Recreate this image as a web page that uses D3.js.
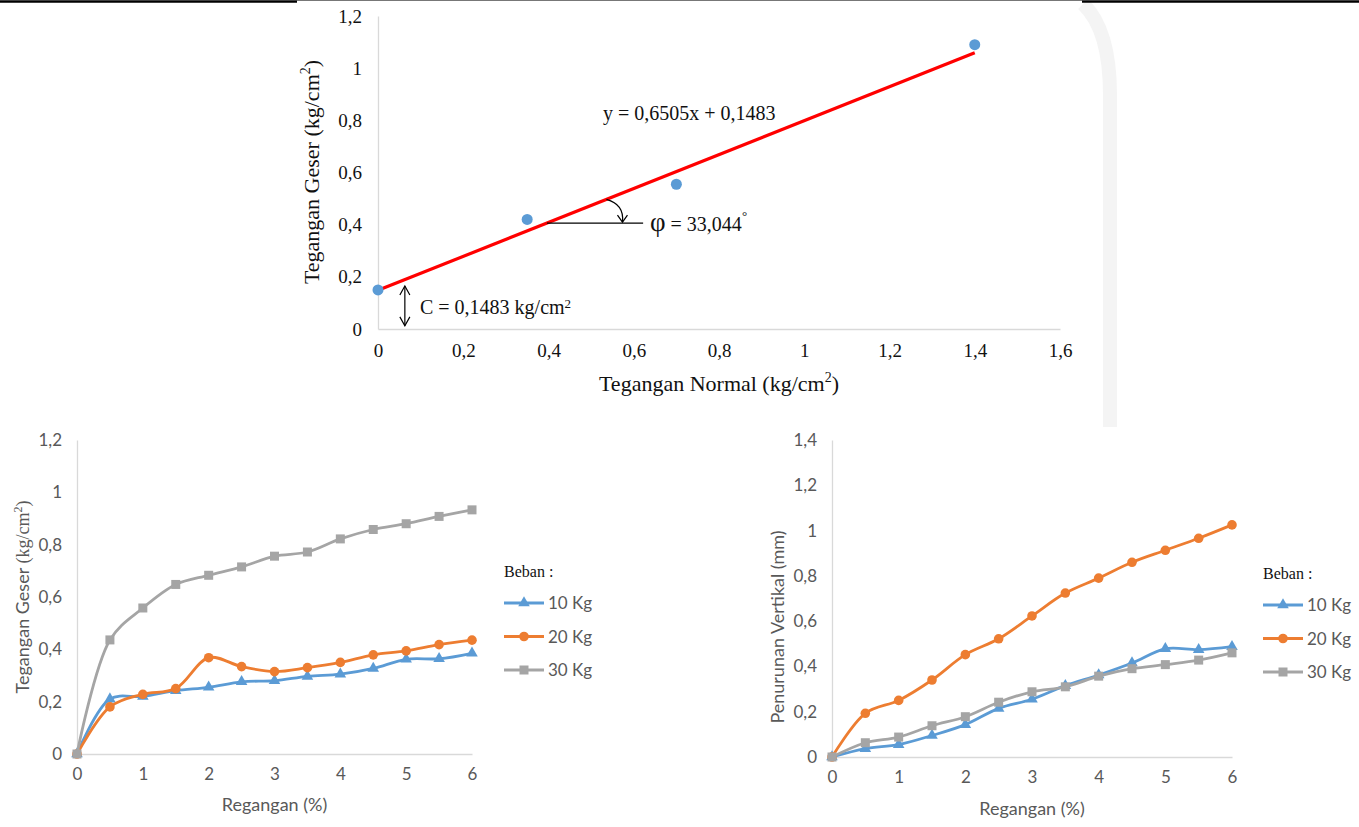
<!DOCTYPE html>
<html>
<head>
<meta charset="utf-8">
<script src="https://cdn.jsdelivr.net/npm/d3@7"></script>
<style>
  body { margin: 0; background: #ffffff; }
  svg { display: block; }
</style>
</head>
<body>
<svg id="page" width="1359" height="827"></svg>
<script>
// ---- Mohr-Coulomb envelope (direct shear) ----
const normalStress = [0, 0.35, 0.7, 1.4];
const shearPeak = [0.15, 0.42, 0.555, 1.09];
const fitSlope = 0.6505;
const fitIntercept = 0.1483;
const envelopeTicksX = [0, 0.2, 0.4, 0.6, 0.8, 1, 1.2, 1.4, 1.6];
const envelopeTicksY = [0, 0.2, 0.4, 0.6, 0.8, 1, 1.2];

// ---- Shear stress and settlement vs strain, per load ----
const strain = [0, 0.5, 1, 1.5, 2, 2.5, 3, 3.5, 4, 4.5, 5, 5.5, 6];
const loadNames = ["10 Kg", "20 Kg", "30 Kg"];
const shear10 = [0, 0.21, 0.22, 0.242, 0.255, 0.276, 0.28, 0.297, 0.305, 0.327, 0.362, 0.364, 0.385];
const shear20 = [0, 0.18, 0.228, 0.25, 0.368, 0.334, 0.315, 0.33, 0.35, 0.379, 0.394, 0.418, 0.435];
const shear30 = [0, 0.436, 0.558, 0.648, 0.683, 0.715, 0.756, 0.772, 0.822, 0.858, 0.88, 0.908, 0.933];
const settle10 = [0, 0.037, 0.055, 0.095, 0.143, 0.215, 0.255, 0.315, 0.362, 0.415, 0.478, 0.474, 0.487];
const settle20 = [0, 0.193, 0.25, 0.34, 0.452, 0.522, 0.623, 0.724, 0.79, 0.86, 0.913, 0.966, 1.025];
const settle30 = [0, 0.063, 0.088, 0.138, 0.178, 0.242, 0.288, 0.31, 0.357, 0.39, 0.408, 0.428, 0.46];
const strainTicks = [0, 1, 2, 3, 4, 5, 6];
const shearTicks = [0, 0.2, 0.4, 0.6, 0.8, 1, 1.2];
const settleTicks = [0, 0.2, 0.4, 0.6, 0.8, 1, 1.2, 1.4];

const seriesColors = ["#5b9bd5", "#ed7d31", "#a5a5a5"];
const seriesMarkers = ["triangle", "circle", "square"];

const locale = d3.formatLocale({ decimal: ",", thousands: ".", grouping: [3], currency: ["", ""] });
const fmt = locale.format("~r");

const svg = d3.select("#page");
const SERIF = "'Liberation Serif', 'Times New Roman', serif";
const SANS = "Lato, 'Open Sans', sans-serif";
const AXIS_GREY = "#d9d9d9";
const LABEL_GREY = "#595959";

// faint background shapes
const bg = svg.append("g");
bg.append("path")
  .attr("d", "M1083,4 C1100,20 1110,50 1110,95 L1110,427")
  .attr("fill", "none").attr("stroke", "#f4f4f4").attr("stroke-width", 14);

// page rule at the top
svg.append("line").attr("x1", 0).attr("x2", 297).attr("y1", 1.5).attr("y2", 1.5)
  .attr("stroke", "#000").attr("stroke-width", 2.5);
svg.append("line").attr("x1", 1082).attr("x2", 1359).attr("y1", 1.5).attr("y2", 1.5)
  .attr("stroke", "#000").attr("stroke-width", 2.5);
svg.append("line").attr("x1", 297).attr("x2", 1082).attr("y1", 0.5).attr("y2", 0.5)
  .attr("stroke", "#777").attr("stroke-width", 1);

function drawAxes(g, x, y, xTicks, yTicks, o) {
  const ax = g.append("g").attr("transform", `translate(0,${y.range()[0]})`)
    .call(d3.axisBottom(x).tickValues(xTicks).tickFormat(fmt).tickSize(0).tickPadding(o.xPad));
  const ay = g.append("g").attr("transform", `translate(${x.range()[0]},0)`)
    .call(d3.axisLeft(y).tickValues(yTicks).tickFormat(fmt).tickSize(0).tickPadding(o.yPad));
  [ax, ay].forEach(a => {
    a.select(".domain").attr("stroke", AXIS_GREY).attr("stroke-width", 1.3);
    a.selectAll("text").attr("font-family", o.font).attr("font-size", o.size).attr("fill", o.color);
  });
}

// ================= Envelope chart =================
{
  const x = d3.scaleLinear().domain([0, 1.6]).range([378, 1060]);
  const y = d3.scaleLinear().domain([0, 1.2]).range([329, 16]);
  const g = svg.append("g");
  drawAxes(g, x, y, envelopeTicksX, envelopeTicksY, { xPad: 15, yPad: 16, font: SERIF, size: 19, color: "#111" });

  // fitted line across the measured range
  const xs = [0, d3.max(normalStress)];
  g.append("line")
    .attr("x1", x(xs[0])).attr("y1", y(fitSlope * xs[0] + fitIntercept))
    .attr("x2", x(xs[1])).attr("y2", y(fitSlope * xs[1] + fitIntercept))
    .attr("stroke", "#ff0000").attr("stroke-width", 3.2);

  g.selectAll("circle.pt").data(normalStress).join("circle")
    .attr("class", "pt")
    .attr("cx", d => x(d)).attr("cy", (d, i) => y(shearPeak[i]))
    .attr("r", 5.5).attr("fill", "#5b9bd5");

  // equation
  g.append("text").attr("x", 603).attr("y", 120)
    .attr("font-family", SERIF).attr("font-size", 20).attr("fill", "#111")
    .text("y = 0,6505x + 0,1483");

  // friction angle annotation
  const yRef = 0.406;
  const xCross = (yRef - fitIntercept) / fitSlope;
  g.append("line")
    .attr("x1", x(xCross)).attr("x2", x(0.622))
    .attr("y1", y(yRef)).attr("y2", y(yRef))
    .attr("stroke", "#000").attr("stroke-width", 1.2);
  const arcX = 0.536;
  const ax0 = x(arcX), ay0 = y(fitSlope * arcX + fitIntercept);
  const tipX = ax0 + 16, tipY = y(yRef) - 1;
  g.append("path")
    .attr("d", `M${ax0},${ay0} Q${tipX + 2},${ay0 + 5} ${tipX},${tipY}`)
    .attr("fill", "none").attr("stroke", "#000").attr("stroke-width", 1.2);
  g.append("path")
    .attr("d", `M${tipX - 5},${tipY - 7} L${tipX},${tipY} L${tipX + 5},${tipY - 7}`)
    .attr("fill", "none").attr("stroke", "#000").attr("stroke-width", 1.2);
  const phi = g.append("text").attr("x", 650).attr("y", y(yRef) + 8)
    .attr("font-family", SERIF).attr("fill", "#111");
  phi.append("tspan").attr("font-size", 27).text("φ");
  phi.append("tspan").attr("font-size", 20).text(" = 33,044");
  phi.append("tspan").attr("font-size", 13).attr("dy", -11).text("°");

  // cohesion annotation
  const cx = x(0.063);
  const cTop = y(0.165), cBot = y(0.012);
  g.append("line").attr("x1", cx).attr("x2", cx).attr("y1", cTop).attr("y2", cBot)
    .attr("stroke", "#000").attr("stroke-width", 1.2);
  g.append("path").attr("d", `M${cx - 5},${cTop + 9} L${cx},${cTop} L${cx + 5},${cTop + 9}`)
    .attr("fill", "none").attr("stroke", "#000").attr("stroke-width", 1.2);
  g.append("path").attr("d", `M${cx - 5},${cBot - 9} L${cx},${cBot} L${cx + 5},${cBot - 9}`)
    .attr("fill", "none").attr("stroke", "#000").attr("stroke-width", 1.2);
  const ct = g.append("text").attr("x", 420).attr("y", 314)
    .attr("font-family", SERIF).attr("font-size", 20).attr("fill", "#111");
  ct.append("tspan").text("C = 0,1483 kg/cm");
  ct.append("tspan").attr("font-size", 13).attr("dy", -6).text("2");

  // axis titles
  const xt = g.append("text").attr("x", 719).attr("y", 391).attr("text-anchor", "middle")
    .attr("font-family", SERIF).attr("font-size", 22).attr("fill", "#111");
  xt.append("tspan").text("Tegangan Normal (kg/cm");
  xt.append("tspan").attr("font-size", 14).attr("dy", -9).text("2");
  xt.append("tspan").attr("dy", 9).text(")");

  const yt = g.append("text").attr("transform", "translate(319,172) rotate(-90)")
    .attr("text-anchor", "middle")
    .attr("font-family", SERIF).attr("font-size", 22).attr("fill", "#111");
  yt.append("tspan").text("Tegangan Geser (kg/cm");
  yt.append("tspan").attr("font-size", 14).attr("dy", -9).text("2");
  yt.append("tspan").attr("dy", 9).text(")");
}

// ================= strain charts =================
function marker(sel, kind, color) {
  if (kind === "circle") {
    sel.append("circle").attr("r", 4.8).attr("fill", color);
  } else if (kind === "square") {
    sel.append("rect").attr("x", -4.5).attr("y", -4.5).attr("width", 9).attr("height", 9).attr("fill", color);
  } else {
    sel.append("path").attr("d", d3.symbol(d3.symbolTriangle, 58)()).attr("fill", color);
  }
}

function strainChart(o) {
  const x = d3.scaleLinear().domain([0, 6]).range(o.xr);
  const y = d3.scaleLinear().domain(o.yDomain).range(o.yr);
  const g = svg.append("g");
  drawAxes(g, x, y, strainTicks, o.yTicks, { xPad: 14, yPad: 15, font: SANS, size: 17, color: LABEL_GREY });

  const line = d3.line().x((d, i) => x(strain[i])).y(d => y(d)).curve(d3.curveCatmullRom.alpha(0.5));
  o.series.forEach((vals, s) => {
    g.append("path").attr("d", line(vals))
      .attr("fill", "none").attr("stroke", seriesColors[s]).attr("stroke-width", 2.8)
      .attr("stroke-linejoin", "round");
    g.selectAll(null).data(vals).join("g")
      .attr("transform", (d, i) => `translate(${x(strain[i])},${y(d)})`)
      .each(function () { marker(d3.select(this), seriesMarkers[s], seriesColors[s]); });
  });

  // x title
  g.append("text").attr("x", (o.xr[0] + o.xr[1]) / 2).attr("y", o.xTitleY).attr("text-anchor", "middle")
    .attr("font-family", SANS).attr("font-size", 18).attr("fill", LABEL_GREY).text("Regangan (%)");

  // y title
  const yt = g.append("text").attr("transform", `translate(${o.yTitle[0]},${o.yTitle[1]}) rotate(-90)`)
    .attr("text-anchor", "middle").attr("font-family", SANS).attr("font-size", 18).attr("fill", LABEL_GREY);
  o.yTitleParts(yt);

  // legend
  const lg = g.append("g").attr("transform", `translate(${o.legend[0]},${o.legend[1]})`);
  lg.append("text").attr("x", 0).attr("y", 0)
    .attr("font-family", SERIF).attr("font-size", 16).attr("fill", "#111").text("Beban :");
  loadNames.forEach((name, s) => {
    const row = lg.append("g").attr("transform", `translate(0,${26 + s * 33.5})`);
    row.append("line").attr("x1", 0).attr("x2", 40).attr("y1", 0).attr("y2", 0)
      .attr("stroke", seriesColors[s]).attr("stroke-width", 2.8);
    marker(row.append("g").attr("transform", "translate(20,0)"), seriesMarkers[s], seriesColors[s]);
    row.append("text").attr("x", 44).attr("y", 6)
      .attr("font-family", SANS).attr("font-size", 17).attr("fill", LABEL_GREY).text(name);
  });
}

strainChart({
  xr: [77, 472], yr: [754, 440], yDomain: [0, 1.2], yTicks: shearTicks,
  series: [shear10, shear20, shear30],
  xTitleY: 811, yTitle: [29, 597], legend: [504, 577],
  yTitleParts: t => {
    t.append("tspan").text("Tegangan Geser ");
    t.append("tspan").attr("font-family", SERIF).text("(kg/cm");
    t.append("tspan").attr("font-family", SERIF).attr("font-size", 12).attr("dy", -7).text("2");
    t.append("tspan").attr("font-family", SERIF).attr("dy", 7).text(")");
  }
});

strainChart({
  xr: [832, 1232], yr: [757, 440], yDomain: [0, 1.4], yTicks: settleTicks,
  series: [settle10, settle20, settle30],
  xTitleY: 815, yTitle: [784, 627], legend: [1263, 579],
  yTitleParts: t => { t.text("Penurunan Vertikal (mm)"); }
});
</script>
</body>
</html>
